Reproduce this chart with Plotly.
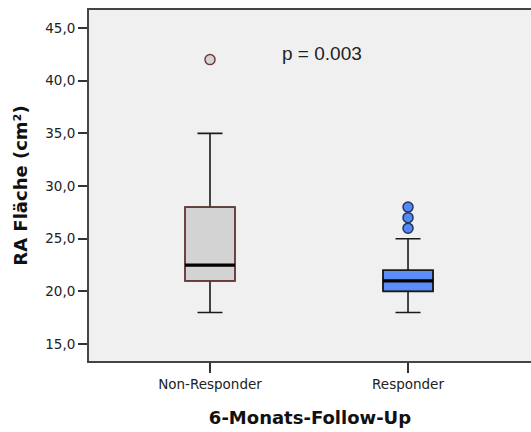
import plotly.graph_objects as go

categories = ["Non-Responder", "Responder"]
q1 = [21.0, 20.0]
median = [22.5, 21.0]
q3 = [28.0, 22.0]
lower_whisker = [18.0, 18.0]
upper_whisker = [35.0, 25.0]
outliers = [[42.0], [26.0, 27.0, 28.0]]
y_ticks = [15, 20, 25, 30, 35, 40, 45]
y_ticktext = ["15,0", "20,0", "25,0", "30,0", "35,0", "40,0", "45,0"]

fills = ["#d3d3d3", "#5b8ef8"]
borders = ["#7d4545", "#1a1a1a"]
out_fill = ["#d9d2d2", "#5389f7"]
out_line = ["#6e3c3c", "#23355e"]
box_w = 0.2525

fig = go.Figure()
for i, cat in enumerate(categories):
    fig.add_trace(go.Box(
        x=[i], q1=[q1[i]], median=[median[i]], q3=[q3[i]],
        lowerfence=[lower_whisker[i]], upperfence=[upper_whisker[i]],
        width=box_w, whiskerwidth=0.5, fillcolor=fills[i],
        line=dict(color="#1a1a1a", width=1.6), boxpoints=False,
        name=cat, showlegend=False, hoverinfo="skip"))
    # box outline (colored border)
    xl, xr = i - box_w / 2, i + box_w / 2
    fig.add_trace(go.Scatter(
        x=[xl, xr, xr, xl, xl], y=[q1[i], q1[i], q3[i], q3[i], q1[i]],
        mode="lines", line=dict(color=borders[i], width=1.4),
        showlegend=False, hoverinfo="skip"))
    # thick median
    fig.add_trace(go.Scatter(
        x=[xl, xr], y=[median[i], median[i]], mode="lines",
        line=dict(color="#000000", width=3.2), showlegend=False, hoverinfo="skip"))
    fig.add_trace(go.Scatter(
        x=[i] * len(outliers[i]), y=outliers[i], mode="markers",
        marker=dict(size=10, color=out_fill[i],
                    line=dict(color=out_line[i], width=1.5)),
        showlegend=False, hoverinfo="skip"))

fig.add_annotation(x=0.566, y=42.6, xref="x", yref="y", text="p = 0.003",
                   showarrow=False, xanchor="center", yanchor="middle",
                   font=dict(family="Liberation Sans, Arial", size=19, color="#222222"))

fig.update_layout(
    width=531, height=432,
    margin=dict(l=89, r=0, t=10, b=71),
    paper_bgcolor="white", plot_bgcolor="#f0f0f0",
    font=dict(family="DejaVu Sans", color="#222222"),
    xaxis=dict(range=[-0.611, 1.621], tickvals=[0, 1], ticktext=categories,
               showgrid=False, zeroline=False, showline=True, mirror=True,
               linecolor="#444444", linewidth=2, ticks="outside", ticklen=10,
               tickcolor="#333333", tickwidth=1.5,
               tickfont=dict(family="DejaVu Sans", size=13.5, color="#222222"),
               title=dict(text="<b>6-Monats-Follow-Up</b>", standoff=20,
                          font=dict(family="DejaVu Sans", size=18, color="#111111"))),
    yaxis=dict(range=[13.39, 46.71], tickvals=y_ticks, ticktext=y_ticktext,
               showgrid=False, zeroline=False, showline=True, mirror=False,
               linecolor="#444444", linewidth=2, ticks="outside", ticklen=9,
               tickcolor="#333333", tickwidth=1.5,
               tickfont=dict(family="DejaVu Sans", size=13.5, color="#222222"),
               title=dict(text="<b>RA Fläche (cm²)</b>", standoff=13,
                          font=dict(family="DejaVu Sans", size=18, color="#111111"))),
)

fig.write_html("out.html")
